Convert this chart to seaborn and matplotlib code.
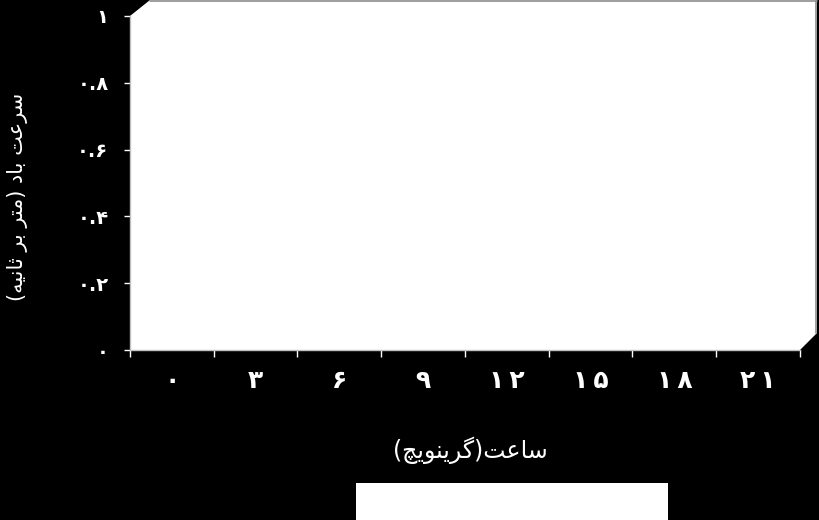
import matplotlib
matplotlib.use("Agg")
import matplotlib.pyplot as plt
import seaborn as sns
import pandas as pd
from matplotlib.patches import Polygon, Rectangle
from matplotlib.lines import Line2D

# ---------------- data ----------------
hours = ["0", "3", "6", "9", "12", "15", "18", "21"]
hour_labels = ["۰", "۳", "۶", "۹", "۱\u2009۲", "۱\u2009۵", "۱\u2009۸", "۲\u2009۱"]
wind_speed = [0, 0, 0, 0, 0, 0, 0, 0]          # chart shows no visible data
y_ticks = [0, 0.2, 0.4, 0.6, 0.8, 1.0]
y_tick_labels = ["۰", "۰.۲", "۰.۴", "۰.۶", "۰.۸", "۱"]
y_title = "سرعت باد (متر بر ثانیه)"
x_title = "ساعت(گرینویچ)"

# ---------------- simple Persian shaping ----------------
FORMS = {  # iso, final, initial, medial
    "ا": ("\uFE8D", "\uFE8E", None, None),
    "ب": ("\uFE8F", "\uFE90", "\uFE91", "\uFE92"),
    "ت": ("\uFE95", "\uFE96", "\uFE97", "\uFE98"),
    "ث": ("\uFE99", "\uFE9A", "\uFE9B", "\uFE9C"),
    "د": ("\uFEA9", "\uFEAA", None, None),
    "ر": ("\uFEAD", "\uFEAE", None, None),
    "س": ("\uFEB1", "\uFEB2", "\uFEB3", "\uFEB4"),
    "ع": ("\uFEC9", "\uFECA", "\uFECB", "\uFECC"),
    "م": ("\uFEE1", "\uFEE2", "\uFEE3", "\uFEE4"),
    "ن": ("\uFEE5", "\uFEE6", "\uFEE7", "\uFEE8"),
    "ه": ("\uFEE9", "\uFEEA", "\uFEEB", "\uFEEC"),
    "و": ("\uFEED", "\uFEEE", None, None),
    "ی": ("\uFBFC", "\uFBFD", "\uFBFE", "\uFBFF"),
    "گ": ("\uFB92", "\uFB93", "\uFB94", "\uFB95"),
    "چ": ("\uFB7A", "\uFB7B", "\uFB7C", "\uFB7D"),
}


def shape(text):
    chars = list(text)
    out = []
    for i, c in enumerate(chars):
        if c not in FORMS:
            out.append(c)
            continue
        f = FORMS[c]
        prev = chars[i - 1] if i > 0 else None
        nxt = chars[i + 1] if i + 1 < len(chars) else None
        joins_prev = prev in FORMS and FORMS[prev][2] is not None
        joins_next = nxt in FORMS and f[2] is not None
        if joins_prev and joins_next:
            out.append(f[3])
        elif joins_prev:
            out.append(f[1])
        elif joins_next:
            out.append(f[2])
        else:
            out.append(f[0])
    vis = "".join(reversed(out))
    swap = {"(": ")", ")": "("}
    return "".join(swap.get(ch, ch) for ch in vis)


# ---------------- figure ----------------
sns.set_theme(style="white")
plt.rcParams["font.family"] = ["DejaVu Sans"]

fig = plt.figure(figsize=(8.2, 5.2), dpi=100, facecolor="black")
W, H = 820, 520
L, R, T, B = 130, 800, 16, 350
ax = fig.add_axes([L / W, (H - B) / H, (R - L) / W, (B - T) / H])
ax.set_facecolor("white")

df = pd.DataFrame({"hour": hours, "speed": wind_speed})
sns.barplot(data=df, x="hour", y="speed", order=hours, color="#4f81bd",
            linewidth=0, ax=ax)

ax.set_xlim(-0.5, len(hours) - 0.5)
ax.set_ylim(0, 1)

# 3D back wall
def to_ax(px, py):
    return ((px - L) / (R - L), (B - py) / (B - T))

wall = [to_ax(130, 350), to_ax(130, 16), to_ax(150, 0), to_ax(817, 0),
        to_ax(817, 333), to_ax(800, 350)]
ax.add_patch(Polygon(wall, closed=True, transform=ax.transAxes,
                     facecolor="white", edgecolor="none", clip_on=False, zorder=0))
for (p1, p2) in [((150, 0.8), (817, 0.8)), ((816.5, 0), (816.5, 333))]:
    a, b = to_ax(*p1), to_ax(*p2)
    ax.add_line(Line2D([a[0], b[0]], [a[1], b[1]], transform=ax.transAxes,
                       color="#8c8c8c", lw=1.2, clip_on=False, zorder=1))

for s in ["top", "right"]:
    ax.spines[s].set_visible(False)
for s in ["left", "bottom"]:
    ax.spines[s].set_color("#c0c0c0")
    ax.spines[s].set_linewidth(1.0)

# ticks
ax.set_yticks(y_ticks)
ax.set_yticklabels(y_tick_labels, fontweight="bold", fontsize=14, color="white")
ax.tick_params(axis="y", direction="out", length=4.5, width=1, color="white", pad=11,
               left=True)
ax.set_xticks(range(len(hours)))
ax.set_xticklabels(hour_labels, fontweight="bold", fontsize=18, color="white")
ax.set_xticks([i - 0.5 for i in range(len(hours) + 1)], minor=True)
ax.tick_params(axis="x", which="major", length=0, pad=14, bottom=False)
ax.tick_params(axis="x", which="minor", direction="out", length=5, width=1,
               color="white", bottom=True)

ax.set_xlabel("")
ax.set_ylabel("")

fig.text(470 / W, 1 - 450 / H, shape(x_title), color="white", fontsize=17,
         ha="center", va="center")
fig.text(18 / W, 1 - 197 / H, shape(y_title), color="white", fontsize=15,
         ha="center", va="center", rotation=90)

# empty legend box
fig.patches.append(Rectangle((356 / W, 0), (668 - 356) / W, (520 - 483) / H,
                             transform=fig.transFigure, facecolor="white",
                             edgecolor="none", figure=fig))

fig.savefig("out.png", dpi=100, facecolor="black")
